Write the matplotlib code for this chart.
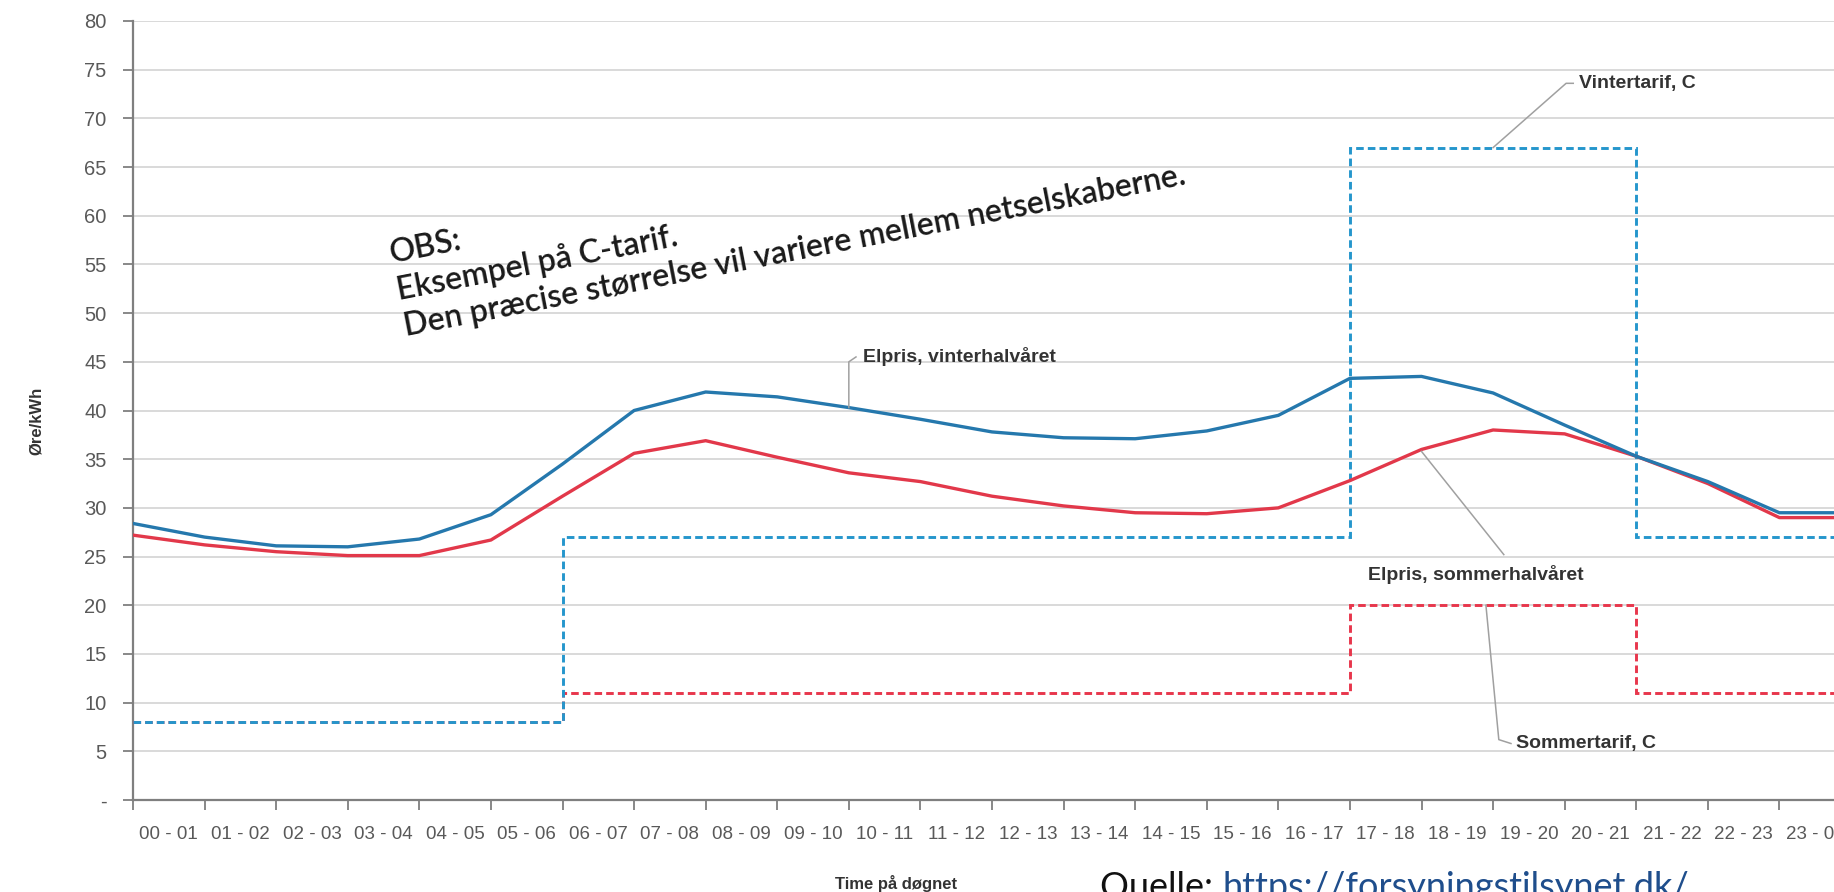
import numpy as np
import matplotlib
matplotlib.use("Agg")
import matplotlib.pyplot as plt
from matplotlib.ticker import FixedLocator, FuncFormatter

# Hour intervals shown on the x axis
hour_labels = ["00 - 01", "01 - 02", "02 - 03", "03 - 04", "04 - 05", "05 - 06",
               "06 - 07", "07 - 08", "08 - 09", "09 - 10", "10 - 11", "11 - 12",
               "12 - 13", "13 - 14", "14 - 15", "15 - 16", "16 - 17", "17 - 18",
               "18 - 19", "19 - 20", "20 - 21", "21 - 22", "22 - 23", "23 - 00"]

# Electricity price (øre/kWh), one point per hour boundary
price_winter = [28.4, 27.0, 26.1, 26.0, 26.8, 29.3, 34.5, 40.0, 41.9, 41.4, 40.3, 39.1,
                37.8, 37.2, 37.1, 37.9, 39.5, 43.3, 43.5, 41.8, 38.5, 35.3, 32.7, 29.5, 29.5]
price_summer = [27.2, 26.2, 25.5, 25.1, 25.1, 26.7, 31.2, 35.6, 36.9, 35.2, 33.6, 32.7,
                31.2, 30.2, 29.5, 29.4, 30.0, 32.8, 36.0, 38.0, 37.6, 35.3, 32.5, 29.0, 29.0]

# C-tariff per hour (øre/kWh)
tariff_winter = [8, 8, 8, 8, 8, 8, 27, 27, 27, 27, 27, 27,
                 27, 27, 27, 27, 27, 67, 67, 67, 67, 27, 27, 27]
tariff_summer = [8, 8, 8, 8, 8, 8, 11, 11, 11, 11, 11, 11,
                 11, 11, 11, 11, 11, 20, 20, 20, 20, 11, 11, 11]

W, H = 1834, 892
fig = plt.figure(figsize=(W / 100, H / 100), dpi=100)
fig.patch.set_facecolor("white")

# axes box in pixels: left 133, right 1851 (runs past the edge), top 21, bottom 800
ax = fig.add_axes([133 / W, (H - 800) / H, (1851 - 133) / W, (800 - 21) / H])

edges = np.arange(len(hour_labels) + 1)
dash = (0, (2.6, 1.4))

ax.stairs(tariff_summer, edges, baseline=None, color="#e8364c", lw=2.1, linestyle=dash, zorder=3)
ax.stairs(tariff_winter, edges, baseline=None, color="#2596cc", lw=2.1, linestyle=dash, zorder=4)
ax.plot(edges, price_summer, color="#e2384a", lw=2.4, zorder=5)
ax.plot(edges, price_winter, color="#2578ad", lw=2.4, zorder=6)

ax.set_xlim(0, 24)
ax.set_ylim(0, 80)

# tick marks on the hour boundaries, labels in between
ax.xaxis.set_major_locator(FixedLocator(edges))
ax.xaxis.set_major_formatter(FuncFormatter(lambda v, p: ""))
ax.xaxis.set_minor_locator(FixedLocator(edges[:-1] + 0.5))
ax.set_xticklabels(hour_labels, minor=True)
ax.tick_params(axis="x", which="major", length=7, width=1.3, color="#7f7f7f", direction="out")
ax.tick_params(axis="x", which="minor", length=0, pad=19, labelsize=13.5, labelcolor="#595959")
for lbl in ax.get_xticklabels(minor=True):
    lbl.set_family("Liberation Sans")

ax.set_yticks(np.arange(0, 81, 5))
ax.yaxis.set_major_formatter(FuncFormatter(lambda v, p: "-" if v == 0 else f"{v:.0f}"))
ax.tick_params(axis="y", length=7, width=1.3, color="#7f7f7f", labelsize=14.5,
               labelcolor="#595959", pad=12)
for lbl in ax.get_yticklabels():
    lbl.set_family("Liberation Sans")

ax.grid(axis="y", color="#d9d9d9", lw=1.4)
ax.set_axisbelow(True)
for side in ["top", "right"]:
    ax.spines[side].set_visible(False)
for side in ["left", "bottom"]:
    ax.spines[side].set_color("#7f7f7f")
    ax.spines[side].set_linewidth(1.6)

# axis titles
fig.text(36 / W, 1 - 421 / H, "Øre/kWh", rotation=90, ha="center", va="center",
         fontsize=12, fontweight="bold", color="#333333", family="Liberation Sans")
fig.text(896 / W, 1 - 884 / H, "Time på døgnet", ha="center", va="center",
         fontsize=12, fontweight="bold", color="#333333", family="Liberation Sans")

# series labels with leader lines
lead = dict(color="#a0a0a0", lw=1.1, zorder=7)
lab = dict(fontsize=14, fontweight="bold", color="#333333", family="Liberation Sans",
           va="center", ha="left", zorder=8)

ax.plot([19.0, 20.02, 20.12], [67, 73.6, 73.6], **lead)
ax.text(20.2, 73.6, "Vintertarif, C", **lab)

ax.plot([10.0, 10.0, 10.1], [40.3, 45.0, 45.5], **lead)
ax.text(10.2, 45.5, "Elpris, vinterhalvåret", **lab)

ax.plot([18.0, 19.15], [35.8, 25.2], **lead)
ax.text(17.25, 23.2, "Elpris, sommerhalvåret", **lab)

ax.plot([18.9, 19.08, 19.25], [20, 6.2, 5.8], **lead)
ax.text(19.32, 5.8, "Sommertarif, C", **lab)

# note about the example tariff
ax.text(3.55, 57.6, "OBS:\nEksempel på C-tarif.\nDen præcise størrelse vil variere mellem netselskaberne.",
        rotation=11, rotation_mode="anchor", ha="left", va="top", linespacing=1.28,
        fontsize=23, fontweight="semibold", family="Lato", color="#1a1a1a", zorder=8)

# source line along the bottom edge
src = fig.text(1100 / W, -6 / H, "Quelle: ", ha="left", va="baseline",
               fontsize=26, family="Lato", color="#111111")
fig.canvas.draw()
bb = src.get_window_extent()
fig.text(bb.x1 / W, -6 / H, "https://forsyningstilsynet.dk/", ha="left", va="baseline",
         fontsize=26, family="Lato", color="#1f4e8c")

fig.savefig("out.png", dpi=100, facecolor="white")
